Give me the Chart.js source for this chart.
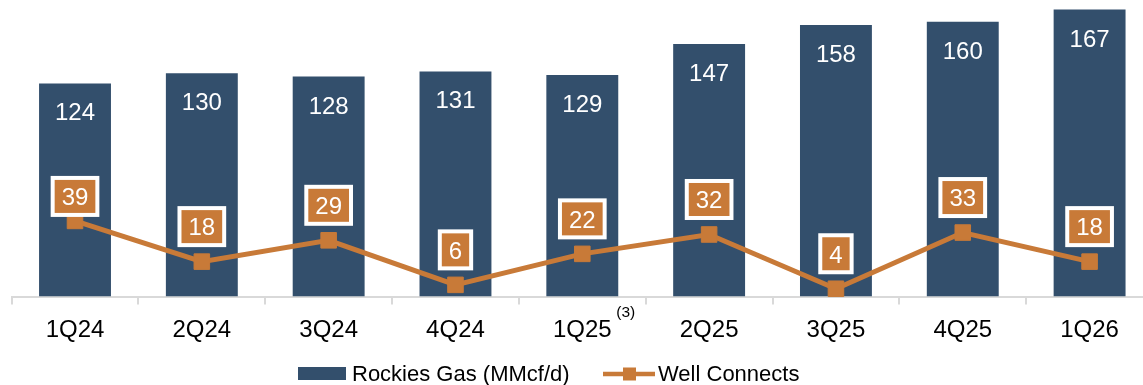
<!DOCTYPE html>
<html>
<head>
<meta charset="utf-8">
<title>Rockies Gas</title>
<script src="https://cdn.jsdelivr.net/npm/chart.js@4.4.1/dist/chart.umd.min.js"></script>
<style>
    html, body { margin: 0; padding: 0; background: #fff; overflow: hidden; }
    #wrap { width: 1160px; height: 385px; }
</style>
</head>
<body>
<div id="wrap"><canvas id="gasChart" width="1160" height="385"></canvas></div>
<script>
// Данные по кварталам
const quarters = ['1Q24', '2Q24', '3Q24', '4Q24', '1Q25', '2Q25', '3Q25', '4Q25', '1Q26'];
const gasValues = [124, 130, 128, 131, 129, 147, 158, 160, 167];
const wellValues = [39, 18, 29, 6, 22, 32, 4, 33, 18];

const NAVY = '#334f6c';
const ORANGE = '#c87a38';
const FONT = '"Liberation Sans", Arial, sans-serif';

// Подписи значений, сноска и легенда
const labelsPlugin = {
    id: 'valueLabels',
    afterDatasetsDraw(chart) {
        const ctx = chart.ctx;
        ctx.save();
        ctx.font = '24px ' + FONT;
        ctx.textAlign = 'center';
        ctx.textBaseline = 'alphabetic';

        // значения внутри столбцов
        ctx.fillStyle = '#fff';
        chart.getDatasetMeta(0).data.forEach((bar, i) => {
            ctx.fillText(gasValues[i], bar.x, bar.y + 37);
        });

        // значения над точками линии в оранжевых плашках
        chart.getDatasetMeta(1).data.forEach((pt, i) => {
            const text = String(wellValues[i]);
            const w = ctx.measureText(text).width + 22;
            const h = 41;
            const gap = i === 0 ? 4 : 14.5;
            const top = pt.y - gap - h;
            ctx.fillStyle = '#fff';
            ctx.fillRect(pt.x - w / 2, top, w, h);
            ctx.fillStyle = ORANGE;
            ctx.fillRect(pt.x - w / 2 + 4, top + 4, w - 8, h - 8);
            ctx.fillStyle = '#fff';
            ctx.fillText(text, pt.x, top + 29.3);
        });
        ctx.restore();
    },
    afterDraw(chart) {
        const ctx = chart.ctx;
        const x = chart.scales.x;
        ctx.save();

        // сноска (3) у 1Q25
        ctx.font = '15.5px ' + FONT;
        ctx.fillStyle = '#000';
        ctx.textAlign = 'left';
        ctx.textBaseline = 'alphabetic';
        ctx.fillText('(3)', x.getPixelForValue(4) + 34, 317);

        // легенда
        ctx.font = '22px ' + FONT;
        ctx.fillStyle = NAVY;
        ctx.fillRect(298, 367, 48, 13);
        ctx.fillStyle = '#000';
        ctx.fillText('Rockies Gas (MMcf/d)', 352, 380.5);

        ctx.strokeStyle = ORANGE;
        ctx.lineWidth = 4.5;
        ctx.beginPath();
        ctx.moveTo(603, 374);
        ctx.lineTo(655, 374);
        ctx.stroke();
        ctx.fillStyle = ORANGE;
        ctx.fillRect(623, 367.5, 13, 13);
        ctx.fillStyle = '#000';
        ctx.fillText('Well Connects', 658, 380.5);
        ctx.restore();
    }
};

const chart = new Chart(document.getElementById('gasChart'), {
    data: {
        labels: quarters,
        datasets: [
            {
                type: 'bar',
                label: 'Rockies Gas (MMcf/d)',
                data: gasValues,
                backgroundColor: NAVY,
                categoryPercentage: 1,
                barPercentage: 0.567,
                yAxisID: 'y',
                order: 2
            },
            {
                type: 'line',
                label: 'Well Connects',
                data: wellValues,
                borderColor: ORANGE,
                backgroundColor: ORANGE,
                borderWidth: 5,
                pointStyle: 'rect',
                pointRadius: 11,
                pointBorderWidth: 1,
                tension: 0,
                clip: false,
                yAxisID: 'y2',
                order: 1
            }
        ]
    },
    plugins: [labelsPlugin],
    options: {
        responsive: false,
        animation: false,
        layout: { autoPadding: false, padding: { left: 11.6, right: 7, top: 0, bottom: 0 } },
        plugins: {
            legend: { display: false },
            tooltip: { enabled: false }
        },
        scales: {
            x: {
                afterFit: (scale) => { scale.height = 88.5; },
                grid: {
                    drawOnChartArea: false,
                    tickLength: 8,
                    color: '#d9d9d9',
                    lineWidth: 2
                },
                border: { color: '#d9d9d9', width: 2 },
                ticks: {
                    color: '#000',
                    padding: 11,
                    font: { family: FONT, size: 24 },
                    maxRotation: 0
                }
            },
            y: { display: false, min: 0, max: 172.6 },
            y2: { display: false, min: 0, max: 153 }
        }
    }
});
</script>
</body>
</html>
